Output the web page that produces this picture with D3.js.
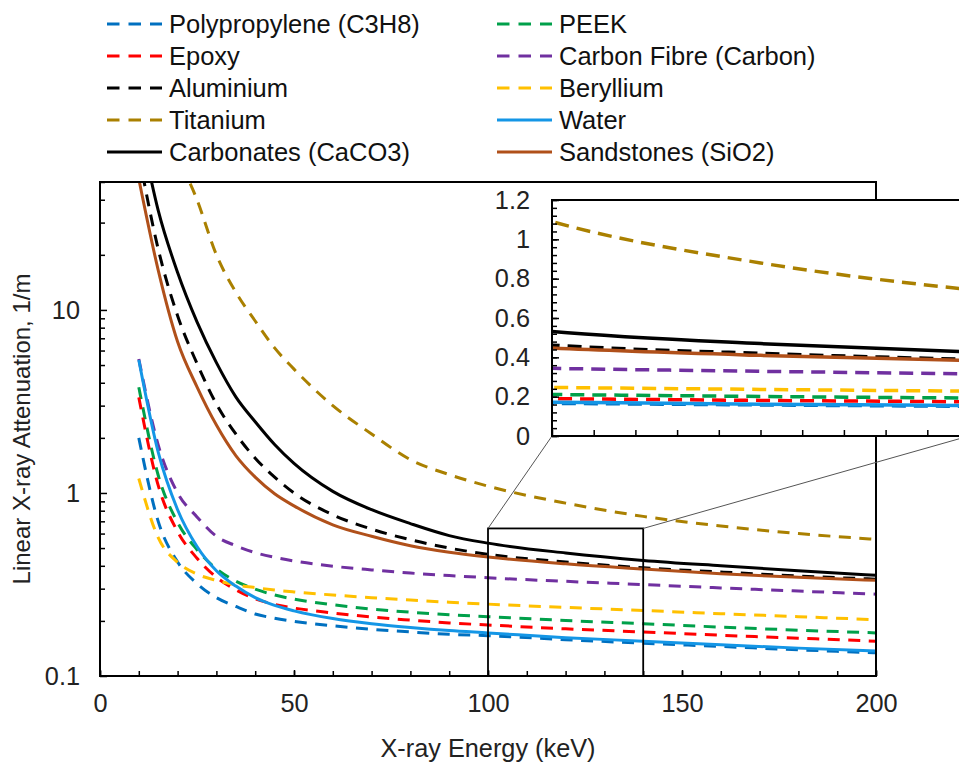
<!DOCTYPE html>
<html>
<head>
<meta charset="utf-8">
<script src="https://cdn.jsdelivr.net/npm/d3@7"></script>
<style>
  html, body { margin: 0; padding: 0; background: #fff; }
  svg { display: block; font-family: "Liberation Sans", Arial, sans-serif; }
</style>
</head>
<body>
<svg id="chart" width="959" height="763"></svg>
<script>
// ---------------- DATA ----------------
const energies = [10, 15, 20, 25, 30, 35, 40, 45, 50, 60, 70, 80, 90, 100, 120, 140, 160, 180, 200];

const polypropylene = [2.0, 0.70, 0.42, 0.32, 0.268, 0.240, 0.218, 0.207, 0.199, 0.188, 0.180, 0.174, 0.169, 0.166, 0.158, 0.151, 0.145, 0.139, 0.134];
const peek          = [3.78, 1.25, 0.69, 0.49, 0.385, 0.330, 0.298, 0.277, 0.263, 0.245, 0.232, 0.223, 0.216, 0.211, 0.201, 0.193, 0.185, 0.178, 0.172];
const epoxy         = [3.33, 1.10, 0.615, 0.44, 0.346, 0.296, 0.264, 0.246, 0.235, 0.221, 0.210, 0.202, 0.195, 0.190, 0.181, 0.174, 0.167, 0.161, 0.155];
const carbonFibre   = [5.39, 1.83, 1.00, 0.74, 0.58, 0.515, 0.472, 0.445, 0.425, 0.398, 0.380, 0.365, 0.354, 0.344, 0.329, 0.316, 0.303, 0.291, 0.280];
const aluminium     = [71, 21.5, 9.3, 5.1, 3.06, 2.10, 1.55, 1.22, 1.00, 0.76, 0.635, 0.555, 0.50, 0.462, 0.420, 0.390, 0.370, 0.352, 0.338];
const beryllium     = [1.20, 0.57, 0.418, 0.360, 0.333, 0.315, 0.304, 0.295, 0.288, 0.277, 0.268, 0.260, 0.253, 0.247, 0.237, 0.228, 0.219, 0.211, 0.203];
const titanium      = [450, 140, 70, 40, 20, 12.5, 8.7, 6.2, 4.75, 3.0, 2.1, 1.52, 1.26, 1.09, 0.88, 0.745, 0.66, 0.60, 0.558];
const water         = [5.33, 1.67, 0.81, 0.51, 0.376, 0.310, 0.268, 0.243, 0.227, 0.206, 0.193, 0.184, 0.177, 0.172, 0.162, 0.155, 0.148, 0.142, 0.137];
const carbonates    = [108, 35, 16, 8.6, 5.15, 3.35, 2.45, 1.84, 1.45, 1.02, 0.81, 0.68, 0.585, 0.532, 0.470, 0.428, 0.400, 0.376, 0.355];
const sandstones    = [52, 16.5, 6.7, 3.8, 2.35, 1.60, 1.22, 0.99, 0.85, 0.67, 0.58, 0.515, 0.475, 0.447, 0.410, 0.384, 0.362, 0.346, 0.333];

const seriesNames  = ["Polypropylene (C3H8)", "PEEK", "Epoxy", "Carbon Fibre (Carbon)", "Aluminium", "Beryllium", "Titanium", "Water", "Carbonates (CaCO3)", "Sandstones (SiO2)"];
const seriesValues = [polypropylene, peek, epoxy, carbonFibre, aluminium, beryllium, titanium, water, carbonates, sandstones];
const seriesColors = ["#0070C0", "#00A04A", "#FF0000", "#7030A0", "#000000", "#FFC000", "#AA8000", "#1496E6", "#000000", "#B0501A"];
const seriesDashed = [true, true, true, true, true, true, true, false, false, false];
// legend layout: left column then right column
const legendLeft  = ["Polypropylene (C3H8)", "Epoxy", "Aluminium", "Titanium", "Carbonates (CaCO3)"];
const legendRight = ["PEEK", "Carbon Fibre (Carbon)", "Beryllium", "Water", "Sandstones (SiO2)"];

const xTicksMain = [0, 50, 100, 150, 200];
const yTicksMain = [0.1, 1, 10];
const insetYTicks = [0, 0.2, 0.4, 0.6, 0.8, 1, 1.2];
const zoomBox = {x0: 100, x1: 140, y0: 0.1, y1: 0.64};

// ---------------- LAYOUT ----------------
const svg = d3.select("#chart");
const M = {left: 100, right: 876, top: 182, bottom: 676};
const x = d3.scaleLinear().domain([0, 200]).range([M.left, M.right]);
const y = d3.scaleLog().domain([0.1, 50]).range([M.bottom, M.top]);

const I = {left: 552, right: 969, top: 200, bottom: 436};
const xi = d3.scaleLinear().domain([100, 140]).range([I.left, I.right]);
const yi = d3.scaleLinear().domain([0, 1.2]).range([I.bottom, I.top]);

const data = seriesNames.map((n, i) => ({
  name: n, color: seriesColors[i], dashed: seriesDashed[i],
  pts: energies.map((e, j) => ({e, v: seriesValues[i][j]}))
}));

const defs = svg.append("defs");
defs.append("clipPath").attr("id", "clipMain").append("rect")
  .attr("x", M.left).attr("y", M.top).attr("width", M.right - M.left).attr("height", M.bottom - M.top);
defs.append("clipPath").attr("id", "clipInset").append("rect")
  .attr("x", I.left).attr("y", I.top).attr("width", I.right - I.left).attr("height", I.bottom - I.top);

// ---------------- MAIN PLOT ----------------
const lineMain = d3.line().curve(d3.curveMonotoneX).x(d => x(d.e)).y(d => y(d.v));
const gMain = svg.append("g").attr("clip-path", "url(#clipMain)");
gMain.selectAll("path.s").data(data).join("path")
  .attr("fill", "none")
  .attr("stroke", d => d.color)
  .attr("stroke-width", 3)
  .attr("stroke-dasharray", d => d.dashed ? "12,8.5" : null)
  .attr("d", d => lineMain(d.pts));

// axes (inward ticks)
const minorY = [];
[0.1, 1, 10].forEach(dec => { for (let k = 2; k <= 9; k++) { const v = dec * k; if (v <= 50) minorY.push(v); } });
const axL = svg.append("g").attr("transform", `translate(${M.left},0)`)
  .call(d3.axisLeft(y).tickValues(minorY).tickSize(-5).tickFormat(""));
const axLM = svg.append("g").attr("transform", `translate(${M.left},0)`)
  .call(d3.axisLeft(y).tickValues(yTicksMain).tickSize(-7).tickPadding(20).tickFormat(d3.format("~g")));
const minorX = d3.range(0, 201, 10);
const axB = svg.append("g").attr("transform", `translate(0,${M.bottom})`)
  .call(d3.axisBottom(x).tickValues(minorX).tickSize(-5).tickFormat(""));
const axBM = svg.append("g").attr("transform", `translate(0,${M.bottom})`)
  .call(d3.axisBottom(x).tickValues(xTicksMain).tickSize(-6).tickPadding(18).tickFormat(d3.format("d")));
[axL, axLM, axB, axBM].forEach(a => {
  a.select(".domain").remove();
  a.selectAll(".tick line").attr("stroke", "#000").attr("stroke-width", 1.5);
  a.selectAll("text").attr("font-size", 25.3).attr("fill", "#222").attr("font-family", "Liberation Sans, Arial, sans-serif");
});

// frame
svg.append("rect").attr("x", M.left).attr("y", M.top)
  .attr("width", M.right - M.left).attr("height", M.bottom - M.top)
  .attr("fill", "none").attr("stroke", "#000").attr("stroke-width", 2);

// axis titles
svg.append("text").attr("x", (M.left + M.right) / 2).attr("y", 757)
  .attr("text-anchor", "middle").attr("font-size", 25.3).attr("fill", "#222")
  .text("X-ray Energy (keV)");
svg.append("text").attr("transform", `translate(30,${(M.top + M.bottom) / 2}) rotate(-90)`)
  .attr("text-anchor", "middle").attr("font-size", 24).attr("fill", "#222")
  .text("Linear X-ray Attenuation, 1/m");

// zoom box and connectors
svg.append("rect").attr("x", x(zoomBox.x0)).attr("y", y(zoomBox.y1))
  .attr("width", x(zoomBox.x1) - x(zoomBox.x0)).attr("height", y(zoomBox.y0) - y(zoomBox.y1))
  .attr("fill", "none").attr("stroke", "#000").attr("stroke-width", 1.8);
svg.append("line").attr("x1", x(zoomBox.x0)).attr("y1", y(zoomBox.y1)).attr("x2", I.left).attr("y2", I.bottom)
  .attr("stroke", "#555").attr("stroke-width", 1);
svg.append("line").attr("x1", x(zoomBox.x1)).attr("y1", y(zoomBox.y1)).attr("x2", I.right).attr("y2", I.bottom)
  .attr("stroke", "#555").attr("stroke-width", 1);

// ---------------- INSET ----------------
svg.append("rect").attr("x", I.left).attr("y", I.top)
  .attr("width", I.right - I.left).attr("height", I.bottom - I.top).attr("fill", "#fff");
const lineInset = d3.line().curve(d3.curveMonotoneX).x(d => xi(d.e)).y(d => yi(d.v));
const gIn = svg.append("g").attr("clip-path", "url(#clipInset)");
gIn.selectAll("path.s").data(data).join("path")
  .attr("fill", "none")
  .attr("stroke", d => d.color)
  .attr("stroke-width", 3.5)
  .attr("stroke-dasharray", d => d.dashed ? "14,8" : null)
  .attr("d", d => lineInset(d.pts));

const insetMinorY = d3.range(0, 31).map(k => k * 0.04);
const aIL = svg.append("g").attr("transform", `translate(${I.left},0)`)
  .call(d3.axisLeft(yi).tickValues(insetMinorY).tickSize(-5).tickFormat(""));
const aILM = svg.append("g").attr("transform", `translate(${I.left},0)`)
  .call(d3.axisLeft(yi).tickValues(insetYTicks).tickSize(-7).tickPadding(22).tickFormat(d3.format("~g")));
const insetMinorX = d3.range(100, 141, 4);
const aIB = svg.append("g").attr("transform", `translate(0,${I.bottom})`)
  .call(d3.axisBottom(xi).tickValues(insetMinorX).tickSize(-6).tickFormat(""));
[aIL, aILM, aIB].forEach(a => {
  a.select(".domain").remove();
  a.selectAll(".tick line").attr("stroke", "#000").attr("stroke-width", 1.5);
  a.selectAll("text").attr("font-size", 25.3).attr("fill", "#222").attr("font-family", "Liberation Sans, Arial, sans-serif");
});
svg.append("rect").attr("x", I.left).attr("y", I.top)
  .attr("width", I.right - I.left).attr("height", I.bottom - I.top)
  .attr("fill", "none").attr("stroke", "#000").attr("stroke-width", 2);

// ---------------- LEGEND ----------------
const legendRows = [24, 56, 88, 120, 152];
function drawLegend(names, lx) {
  names.forEach((n, r) => {
    const s = data.find(d => d.name === n);
    const g = svg.append("g").attr("transform", `translate(${lx},${legendRows[r]})`);
    g.append("line").attr("x1", 0).attr("x2", 55).attr("y1", 0).attr("y2", 0)
      .attr("stroke", s.color).attr("stroke-width", 3)
      .attr("stroke-dasharray", s.dashed ? "12.5,9" : null);
    g.append("text").attr("x", 62).attr("y", 9).attr("font-size", 25.5).attr("fill", "#111").text(n);
  });
}
drawLegend(legendLeft, 107);
drawLegend(legendRight, 497);
</script>
</body>
</html>
